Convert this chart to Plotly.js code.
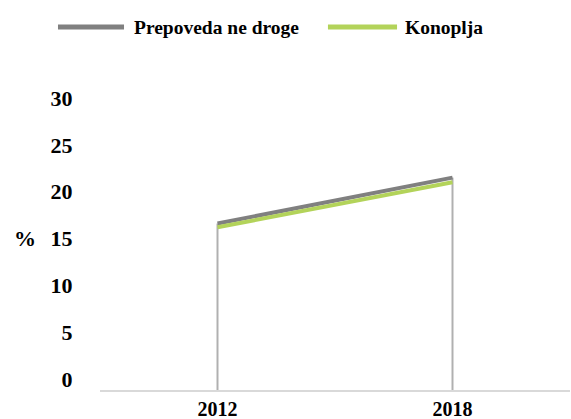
<!DOCTYPE html>
<html>
<head>
<meta charset="utf-8">
<script src="https://cdn.plot.ly/plotly-3.0.1.min.js"></script>
<style>html,body{margin:0;padding:0;background:#fff;}#chart{width:571px;height:419px;}</style>
</head>
<body>
<div id="chart"></div>
<script>
const years = ['2012', '2018'];
const illicitDrugs = [16.6, 21.5];
const cannabis = [16.2, 21.0];
const seriesNames = ['Prepoveda ne droge', 'Konoplja'];
const seriesColors = ['#808080', '#b3d35a'];
const yTicks = [0, 5, 10, 15, 20, 25, 30];

const yMin = -1.17, yMax = 30;
const font = '"Liberation Serif", "Times New Roman", serif';

const dropLines = years.map((yr, i) => ({
  x: [yr, yr],
  y: [yMin, Math.max(illicitDrugs[i], cannabis[i])],
  mode: 'lines',
  line: {color: '#b0b0b0', width: 2},
  showlegend: false,
  hoverinfo: 'skip'
}));

const traces = dropLines.concat([
  {x: years, y: illicitDrugs, name: seriesNames[0], mode: 'lines',
   line: {color: seriesColors[0], width: 4}},
  {x: years, y: cannabis, name: seriesNames[1], mode: 'lines',
   line: {color: seriesColors[1], width: 4}}
]);

// Legend drawn as shapes + text (long line samples as in the reference)
const legendY = 1.243;
const legendSamples = [[-0.0894, 0.0511], [0.485, 0.632]];
const legendTextX = [0.0681, 0.645];
const shapes = legendSamples.map((s, i) => ({
  type: 'line', xref: 'paper', yref: 'paper',
  x0: s[0], x1: s[1], y0: legendY, y1: legendY,
  line: {color: seriesColors[i], width: 5}
}));
const legendTexts = seriesNames.map((n, i) => ({
  text: n, xref: 'paper', yref: 'paper', x: legendTextX[i], y: legendY,
  xanchor: 'left', yanchor: 'middle', showarrow: false,
  font: {family: font, size: 19.5, weight: 'bold', color: '#000'}
}));

const layout = {
  width: 571, height: 419,
  margin: {l: 100, r: 1, t: 98, b: 29},
  paper_bgcolor: '#fff', plot_bgcolor: '#fff',
  font: {family: font, color: '#000', size: 22},
  showlegend: false,
  xaxis: {
    type: 'category', range: [-0.5, 1.5],
    showgrid: false, zeroline: false,
    showline: true, linecolor: '#d9d9d9', linewidth: 2,
    ticks: '',
    tickfont: {family: font, size: 20, weight: 'bold'}
  },
  yaxis: {
    range: [yMin, yMax], tickvals: yTicks, ticktext: yTicks.map(String),
    showgrid: false, zeroline: false, showline: false,
    ticks: 'outside', ticklen: 22, tickcolor: 'rgba(0,0,0,0)',
    tickfont: {family: font, size: 22, weight: 'bold'}
  },
  shapes: shapes,
  annotations: legendTexts.concat([{
    text: '%', xref: 'paper', yref: 'y', x: 0, y: 15, xshift: -75,
    xanchor: 'center', yanchor: 'middle', showarrow: false,
    font: {family: font, size: 22, weight: 'bold'}
  }])
};

Plotly.newPlot('chart', traces, layout, {displayModeBar: false, staticPlot: true});
</script>
</body>
</html>
